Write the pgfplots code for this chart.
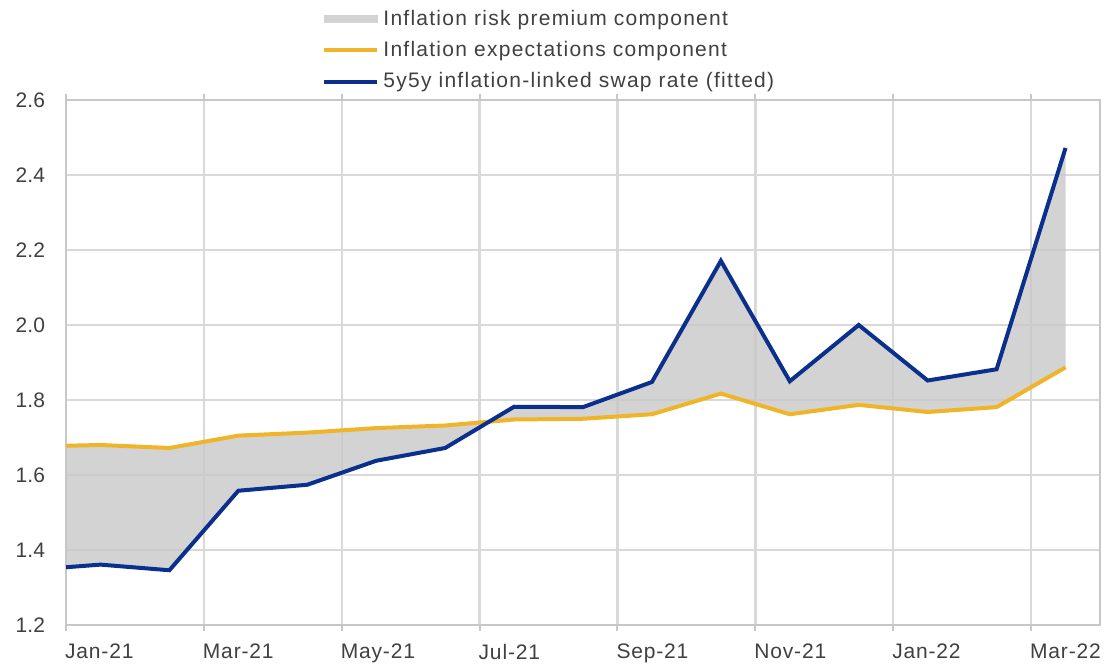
\documentclass[border=0pt]{standalone}
\usepackage{pgfplots}
\pgfplotsset{compat=1.18}
\usepgfplotslibrary{fillbetween}
\usepackage{pgfplotstable}
\usepackage{fontspec}
\setmainfont{Liberation Sans}
\newfontfamily\spacedfont[LetterSpace=6]{Liberation Sans}
\newfontfamily\tickfont[LetterSpace=4]{Liberation Sans}

\definecolor{ecbblue}{HTML}{0A2F8C}
\definecolor{ecbyellow}{HTML}{F0B429}
\definecolor{premgray}{HTML}{C8C8C8}
\definecolor{gridgray}{HTML}{D9D9D9}
\definecolor{txt}{HTML}{404040}

% month index (0 = start of Jan-21), fitted swap rate, expectations component
\pgfplotstableread{
m     swap   exp
0     1.354  1.678
0.5   1.361  1.680
1.5   1.346  1.672
2.5   1.558  1.705
3.5   1.574  1.713
4.5   1.638  1.725
5.5   1.672  1.732
6.5   1.782  1.748
7.5   1.781  1.750
8.5   1.848  1.762
9.5   2.171  1.817
10.5  1.850  1.762
11.5  2.000  1.787
12.5  1.852  1.768
13.5  1.882  1.781
14.5  2.472  1.887
}\rates

\begin{document}
\begin{tikzpicture}
\begin{axis}[
    at={(0,0)}, anchor=south west,
    scale only axis,
    width=517pt, height=262.5pt,
    xmin=0, xmax=15,
    ymin=1.2, ymax=2.6,
    xtick={0,2,4,6,8,10,12,14},
    xticklabels={Jan-21,Mar-21,May-21,Jul-21,Sep-21,Nov-21,Jan-22,Mar-22},
    ytick={1.2,1.4,1.6,1.8,2.0,2.2,2.4,2.6},
    /pgf/number format/fixed,
    /pgf/number format/fixed zerofill,
    /pgf/number format/precision=1,
    /pgf/number format/assume math mode=true,
    tick label style={font=\fontsize{10.5}{12}\selectfont, text=txt},
    xticklabel style={font=\tickfont\fontsize{10.5}{12}\selectfont,
        anchor=north west, xshift=-4pt, yshift=-3pt},
    yticklabel style={anchor=east, xshift=-4pt},
    grid=major,
    grid style={gridgray, line width=1.2pt},
    axis line style={gridgray!80!gray, line width=1.2pt},
    tick align=outside,
    major tick length=3pt,
    xtick style={gridgray!80!gray, line width=1pt},
    ytick style={draw=none},
    legend cell align=left,
    legend style={draw=none, fill=none, at={(0.2476,1.18)}, anchor=north west,
        font=\spacedfont\fontsize{10.5}{12}\selectfont, text=txt,
        row sep=2.6pt, inner sep=0pt},
]
\addlegendimage{legend image code/.code={\fill[premgray!80] (0pt,-1.8pt) rectangle (26.5pt,1.8pt);}}
\addlegendentry{Inflation risk premium component}
\addlegendimage{legend image code/.code={\draw[ecbyellow, line width=2pt] (0pt,0pt) -- (26.5pt,0pt);}}
\addlegendentry{Inflation expectations component}
\addlegendimage{legend image code/.code={\draw[ecbblue, line width=2pt] (0pt,0pt) -- (26.5pt,0pt);}}
\addlegendentry{5y5y inflation-linked swap rate (fitted)}

\addplot[name path=swap, draw=none, forget plot] table[x=m, y=swap] {\rates};
\addplot[name path=exp, draw=none, forget plot] table[x=m, y=exp] {\rates};
\addplot[fill=premgray, fill opacity=0.8, draw=none, forget plot] fill between[of=swap and exp];
\addplot[ecbyellow, line width=2pt, forget plot] table[x=m, y=exp] {\rates};
\addplot[ecbblue, line width=2pt, forget plot] table[x=m, y=swap] {\rates};
\end{axis}
\pgfresetboundingbox
\path (-33pt,-19.5pt) rectangle (520.5pt,312.5pt);
\end{tikzpicture}
\end{document}
